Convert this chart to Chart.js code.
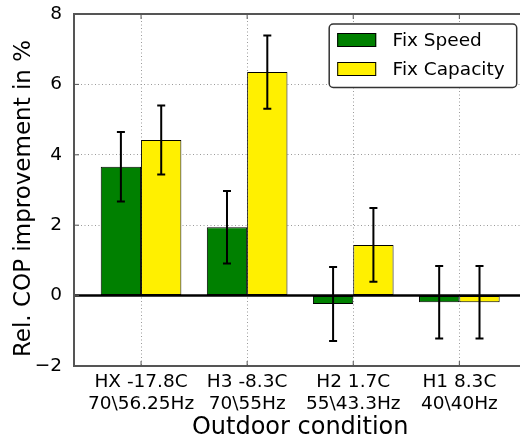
<!DOCTYPE html>
<html>
<head>
<meta charset="utf-8">
<script src="https://cdn.jsdelivr.net/npm/chart.js@4"></script>
<style>
  html, body { margin: 0; padding: 0; overflow: hidden; background: #fff; }
  #wrap { width: 540px; height: 441px; }
</style>
</head>
<body>
<div id="wrap"><canvas id="c" width="540" height="441"></canvas></div>
<script>
// Outdoor test conditions (two-line tick labels)
const conditions = [
  ['HX -17.8C', '70\\56.25Hz'],
  ['H3 -8.3C', '70\\55Hz'],
  ['H2 1.7C', '55\\43.3Hz'],
  ['H1 8.3C', '40\\40Hz']
];
const seriesNames = ['Fix Speed', 'Fix Capacity'];
// Relative COP improvement in % and its uncertainty
const fixSpeed = [3.66, 1.94, -0.24, -0.19];
const fixSpeedErr = [0.99, 1.03, 1.05, 1.03];
const fixCapacity = [4.42, 6.35, 1.44, -0.19];
const fixCapacityErr = [0.98, 1.04, 1.05, 1.03];
const yTicks = [-2, 0, 2, 4, 6, 8];
const yTitle = 'Rel. COP improvement in %';

const FONT = 'DejaVu Sans';
Chart.defaults.font.family = FONT;
Chart.defaults.color = '#000';

const GREEN = '#008000';
const YELLOW = '#fff000';

// error bars drawn on each bar through the value scale
const errorBars = {
  id: 'errorBars',
  afterDatasetsDraw(chart) {
    const ctx = chart.ctx;
    const ys = chart.scales.y;
    // thick zero reference line
    const y0 = ys.getPixelForValue(0);
    ctx.save();
    ctx.strokeStyle = '#000';
    ctx.lineWidth = 2.5;
    ctx.beginPath();
    ctx.moveTo(chart.chartArea.left, y0);
    ctx.lineTo(chart.chartArea.right, y0);
    ctx.stroke();
    chart.data.datasets.forEach((ds, di) => {
      const meta = chart.getDatasetMeta(di);
      meta.data.forEach((el, i) => {
        const v = ds.data[i].y;
        const e = ds.errors[i];
        const x = el.x;
        const yt = ys.getPixelForValue(v + e);
        const yb = ys.getPixelForValue(v - e);
        ctx.lineWidth = 2;
        ctx.beginPath();
        ctx.moveTo(x, yt); ctx.lineTo(x, yb);
        ctx.moveTo(x - 4, yt); ctx.lineTo(x + 4, yt);
        ctx.moveTo(x - 4, yb); ctx.lineTo(x + 4, yb);
        ctx.stroke();
      });
    });
    ctx.restore();
  }
};

// axes frame with inward tick marks, the y-axis title and the legend box
const frameAndLegend = {
  id: 'frameAndLegend',
  afterDraw(chart) {
    const ctx = chart.ctx;
    const a = chart.chartArea;
    const xs = chart.scales.x, ys = chart.scales.y;
    ctx.save();
    ctx.strokeStyle = '#555';
    ctx.lineWidth = 1;
    ctx.beginPath();
    xs.ticks.forEach(t => {
      const px = xs.getPixelForValue(t.value);
      ctx.moveTo(px, a.bottom); ctx.lineTo(px, a.bottom - 5);
      ctx.moveTo(px, a.top); ctx.lineTo(px, a.top + 5);
    });
    ys.ticks.forEach(t => {
      const py = ys.getPixelForValue(t.value);
      ctx.moveTo(a.left, py); ctx.lineTo(a.left + 5, py);
    });
    ctx.stroke();
    ctx.lineWidth = 2;
    ctx.strokeRect(a.left, a.top, a.right - a.left, a.bottom - a.top);

    // y-axis title, rotated
    ctx.save();
    ctx.translate(24.5, (a.top + a.bottom) / 2 + 8.5);
    ctx.rotate(-Math.PI / 2);
    ctx.fillStyle = '#000';
    ctx.font = '23px "' + FONT + '"';
    ctx.textAlign = 'center';
    ctx.textBaseline = 'middle';
    ctx.fillText(yTitle, 0, 0);
    ctx.restore();

    // legend
    const bw = 187.5, bh = 63.5;
    const bx = a.right - 9.7 - bw, by = a.top + 10;
    const r = 4;
    ctx.beginPath();
    ctx.moveTo(bx + r, by);
    ctx.arcTo(bx + bw, by, bx + bw, by + bh, r);
    ctx.arcTo(bx + bw, by + bh, bx, by + bh, r);
    ctx.arcTo(bx, by + bh, bx, by, r);
    ctx.arcTo(bx, by, bx + bw, by, r);
    ctx.closePath();
    ctx.fillStyle = '#fff';
    ctx.fill();
    ctx.strokeStyle = '#333';
    ctx.lineWidth = 1.5;
    ctx.stroke();
    const rows = [by + 16, by + 45];
    chart.data.datasets.forEach((ds, i) => {
      const cy = rows[i];
      ctx.fillStyle = ds.backgroundColor;
      ctx.fillRect(bx + 8, cy - 7, 39, 14);
      ctx.strokeStyle = '#000';
      ctx.lineWidth = 1;
      ctx.strokeRect(bx + 8.5, cy - 6.5, 38, 13);
      ctx.fillStyle = '#000';
      ctx.font = '18.5px "' + FONT + '"';
      ctx.textAlign = 'left';
      ctx.textBaseline = 'middle';
      ctx.fillText(ds.label, bx + 63.4, cy + 1);
    });
    ctx.restore();
  }
};

const noEdgePadding = s => {
  s.paddingTop = 0; s.paddingBottom = 0; s.paddingLeft = 0; s.paddingRight = 0;
};

new Chart(document.getElementById('c'), {
  type: 'bar',
  data: {
    datasets: [
      {
        label: seriesNames[0],
        data: fixSpeed.map((v, i) => ({ x: i, y: v })),
        errors: fixSpeedErr,
        backgroundColor: GREEN,
        borderColor: '#000',
        borderWidth: 1,
        borderSkipped: false
      },
      {
        label: seriesNames[1],
        data: fixCapacity.map((v, i) => ({ x: i, y: v })),
        errors: fixCapacityErr,
        backgroundColor: YELLOW,
        borderColor: '#000',
        borderWidth: 1,
        borderSkipped: false
      }
    ]
  },
  options: {
    responsive: false,
    animation: false,
    devicePixelRatio: 1,
    layout: { padding: { left: 0, top: 14, right: 13.6, bottom: 0 } },
    datasets: { bar: { categoryPercentage: 0.76, barPercentage: 1 } },
    plugins: { legend: { display: false }, tooltip: { enabled: false } },
    scales: {
      x: {
        type: 'linear',
        offset: false,
        min: -0.632,
        max: 3.632,
        afterBuildTicks: s => { s.ticks = conditions.map((c, i) => ({ value: i })); },
        afterFit: s => { s.height = 75; noEdgePadding(s); },
        ticks: {
          callback: v => conditions[v],
          font: { size: 18.5 },
          color: '#000',
          padding: 5,
          autoSkip: false,
          minRotation: 0,
          maxRotation: 0
        },
        grid: { color: '#9a9a9a', lineWidth: 1, drawTicks: false, offset: false },
        border: { display: false, dash: [1, 2.5] },
        title: {
          display: true,
          text: 'Outdoor condition',
          font: { size: 24, lineHeight: 1.1 },
          color: '#000',
          padding: { top: 0, bottom: 0 }
        }
      },
      y: {
        min: -2,
        max: 8,
        afterBuildTicks: s => { s.ticks = yTicks.map(v => ({ value: v })); },
        afterFit: s => { s.width = 74; noEdgePadding(s); },
        ticks: {
          callback: v => (v < 0 ? '\u2212' + Math.abs(v) : String(v)),
          font: { size: 18.5 },
          color: '#000',
          padding: 12
        },
        grid: { color: '#9a9a9a', lineWidth: 1, drawTicks: false },
        border: { display: false, dash: [1, 2.5] }
      }
    }
  },
  plugins: [errorBars, frameAndLegend]
});
</script>
</body>
</html>
